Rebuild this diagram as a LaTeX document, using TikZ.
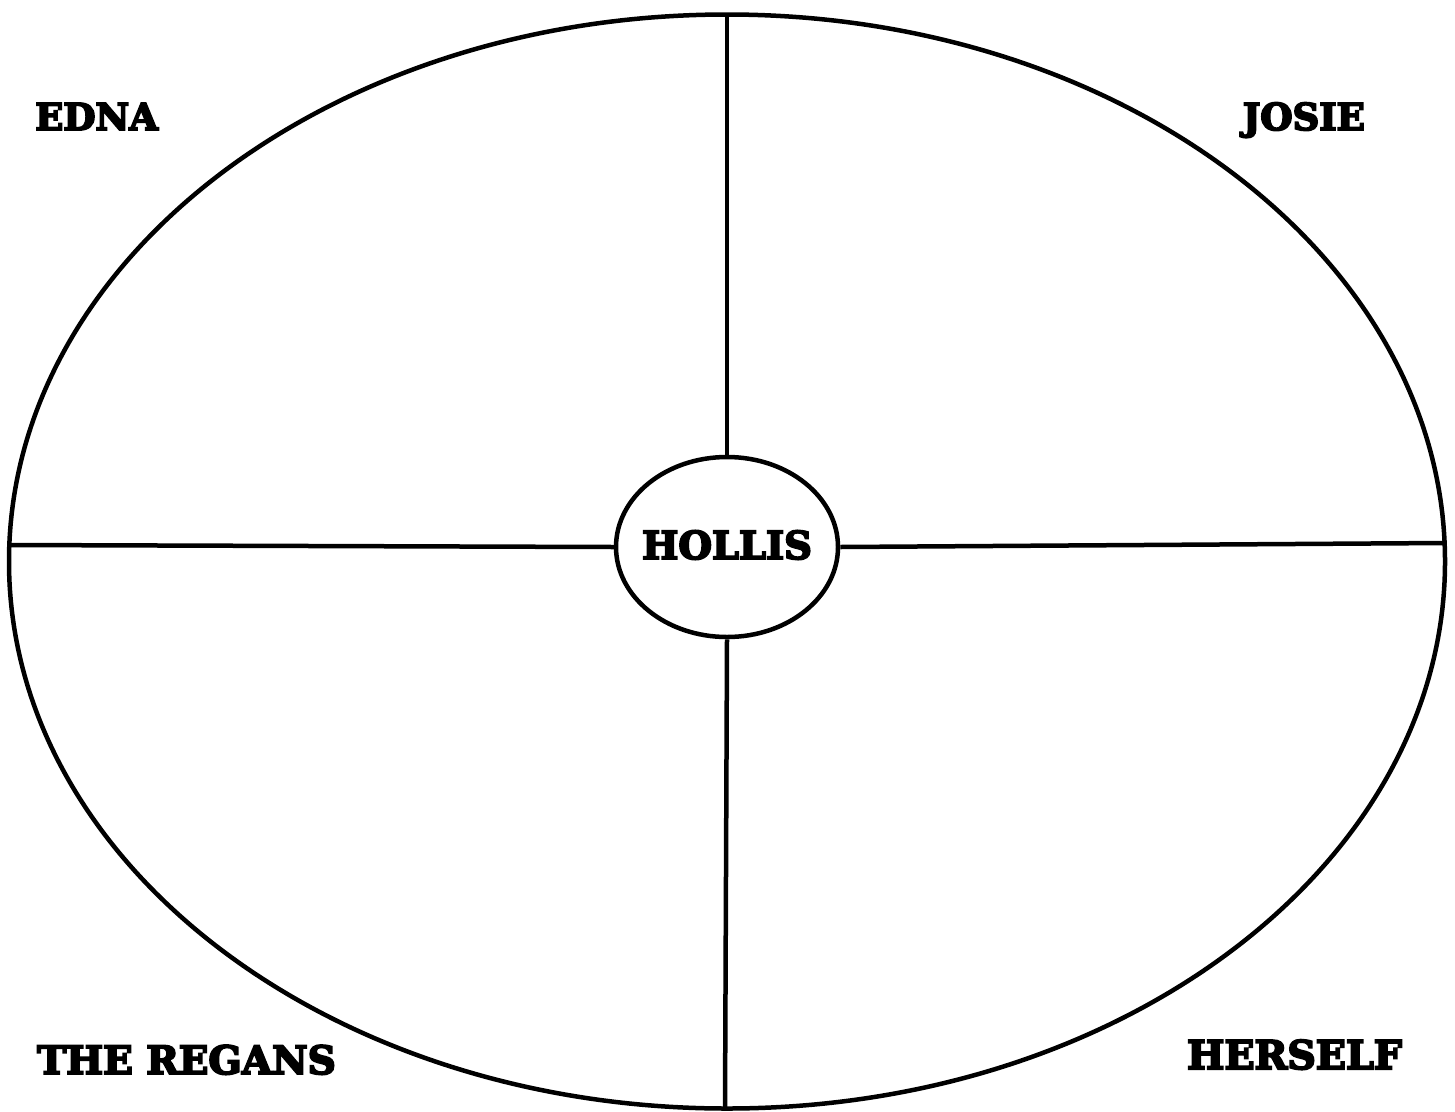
\documentclass[tikz,border=0pt]{standalone}
\usepackage{fontspec}
\setmainfont{DejaVu Serif}
\newfontfamily\heavyfont{DejaVu Serif Bold}[FakeBold=5]
\usetikzlibrary{shapes.geometric}
\begin{document}
\begin{tikzpicture}[x=1pt,y=-1pt,
  outline/.style={line width=4.5pt,black},
  label/.style={font=\fontsize{37}{44}\heavyfont,inner sep=0pt,anchor=base west}]
\useasboundingbox (0,0) rectangle (1455,1111);
\fill[white] (0,0) rectangle (1455,1111);
\draw[outline] (727,561.5) ellipse [x radius=718, y radius=547];
\node[outline,draw,ellipse,minimum width=222pt,minimum height=180pt,inner sep=0pt] (hollis) at (727,547) {};
\node[font=\fontsize{38.5}{44}\heavyfont,inner sep=0pt] (hl) at (727,545) {HOLLIS};
\coordinate (top) at (727,14);
\coordinate (bot) at (725,1109);
\coordinate (lft) at (9,545);
\coordinate (rgt) at (1445,543);
\draw[outline] (hollis.north) -- (top);
\draw[outline] (hollis.south) -- (bot);
\draw[outline] (hollis.west) -- (lft);
\draw[outline] (hollis.east) -- (rgt);
\node[label] (edna) at (35,130) {EDNA};
\node[label,anchor=base east] (josie) at (1365,130) {JOSIE};
\node[label,font=\fontsize{39}{44}\heavyfont] (regans) at (37,1074) {THE REGANS};
\node[label,anchor=base east,font=\fontsize{39.5}{44}\heavyfont] (herself) at (1402,1069) {HERSELF};
\end{tikzpicture}
\end{document}
